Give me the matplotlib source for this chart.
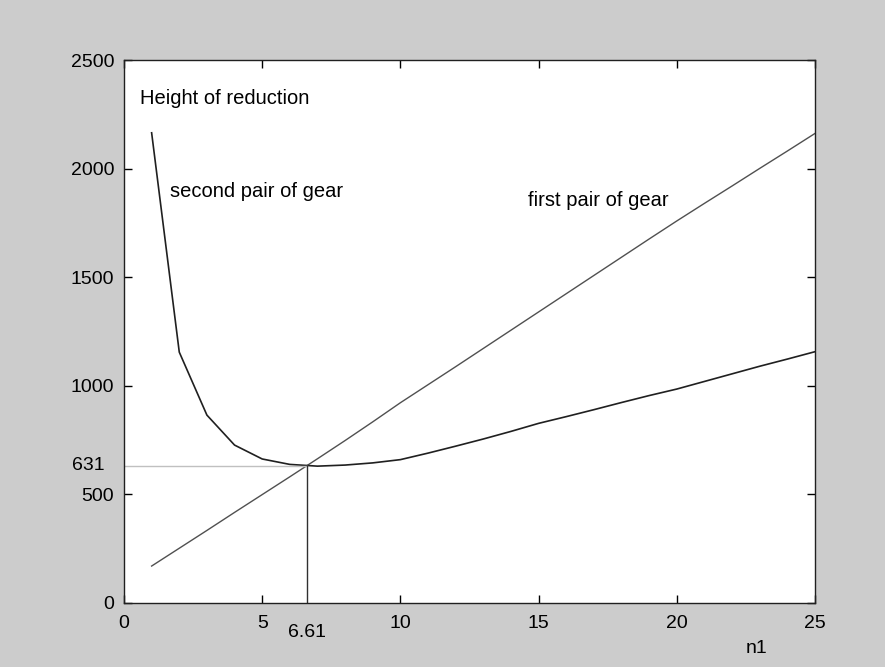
import matplotlib
matplotlib.use('Agg')
import matplotlib.pyplot as plt

plt.rcParams['font.family'] = ['Liberation Sans', 'DejaVu Sans']
plt.rcParams['font.size'] = 14

# n1 values (integer steps)
n1 = list(range(1, 26))
# first pair of gear
first_pair = [170, 252, 334, 417, 499, 581, 664, 748, 834, 922, 1005, 1088, 1172,
              1256, 1340, 1424, 1508, 1592, 1676, 1759, 1840, 1920, 2001, 2081, 2162]
# second pair of gear
second_pair = [2165, 1155, 865, 727, 663, 638, 630, 635, 645, 660, 690, 722, 755,
               790, 827, 858, 890, 923, 955, 985, 1020, 1055, 1090, 1123, 1157]

# optimum point
opt_n1 = 6.61
opt_h = 631

xticks = [0, 5, 10, 15, 20, 25]
yticks = [0, 500, 1000, 1500, 2000, 2500]

fig = plt.figure(figsize=(8.85, 6.67), dpi=100, facecolor='#cccccc')
ax = fig.add_axes([0.1401, 0.0960, 0.7808, 0.8140])
ax.set_facecolor('white')

ax.plot(n1, first_pair, color='#505050', lw=1.0)
ax.plot(n1, second_pair, color='#202020', lw=1.2)

ax.plot([0, opt_n1], [opt_h, opt_h], color='#c0c0c0', lw=1.0)
ax.plot([opt_n1, opt_n1], [0, opt_h], color='#303030', lw=1.0)

ax.set_xlim(0, 25)
ax.set_ylim(0, 2500)
ax.set_xticks(xticks)
ax.set_yticks(yticks)
ax.tick_params(direction='in', length=5.8, width=1.0, top=True, right=True,
               labelsize=14, colors='black')
ax.tick_params(axis='x', pad=9)
ax.tick_params(axis='y', pad=7)
for s in ax.spines.values():
    s.set_linewidth(1.0)
    s.set_color('#202020')

# extra labels for the optimum
ax.text(-0.0285, opt_h, str(opt_h), transform=ax.get_yaxis_transform(),
        ha='right', va='center', fontsize=14)
ax.text(opt_n1, -0.038, '6.61', transform=ax.get_xaxis_transform(),
        ha='center', va='top', fontsize=14)
ax.text(0.916, -0.068, 'n1', transform=ax.transAxes, ha='center', va='top',
        fontsize=14)

ax.text(0.58, 2325, 'Height of reduction', ha='left', va='center', fontsize=14.5)
ax.text(1.66, 1894, 'second pair of gear', ha='left', va='center', fontsize=14.5)
ax.text(14.6, 1855, 'first pair of gear', ha='left', va='center', fontsize=14.5)

plt.savefig('out.png', dpi=100, facecolor=fig.get_facecolor())
